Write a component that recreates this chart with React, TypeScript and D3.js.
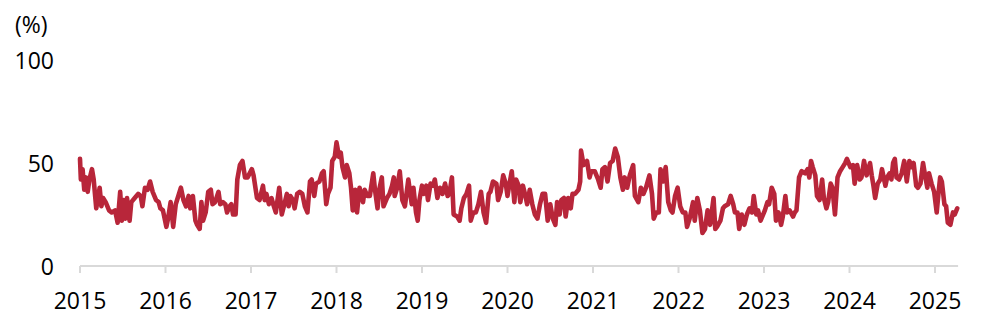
import React from 'react';
import * as d3 from 'd3';

// decimal year of each reading
const dates: number[] = [
  2015.00, 2015.01, 2015.03, 2015.05, 2015.07, 2015.09, 2015.11, 2015.14, 2015.16, 2015.19,
  2015.23, 2015.25, 2015.27, 2015.30, 2015.34, 2015.37, 2015.41, 2015.44, 2015.47, 2015.49,
  2015.51, 2015.53, 2015.55, 2015.58, 2015.60, 2015.64, 2015.68, 2015.71, 2015.73, 2015.76,
  2015.79, 2015.82, 2015.85, 2015.89, 2015.92, 2015.94, 2015.97, 2016.01, 2016.03, 2016.06,
  2016.09, 2016.12, 2016.15, 2016.18, 2016.21, 2016.24, 2016.27, 2016.29, 2016.32, 2016.35,
  2016.37, 2016.40, 2016.42, 2016.44, 2016.47, 2016.50, 2016.53, 2016.55, 2016.58, 2016.62,
  2016.64, 2016.67, 2016.70, 2016.72, 2016.75, 2016.77, 2016.79, 2016.82, 2016.84, 2016.87,
  2016.90, 2016.93, 2016.96, 2017.01, 2017.03, 2017.07, 2017.10, 2017.14, 2017.16, 2017.18,
  2017.21, 2017.24, 2017.26, 2017.29, 2017.33, 2017.36, 2017.39, 2017.42, 2017.44, 2017.46,
  2017.49, 2017.51, 2017.54, 2017.57, 2017.60, 2017.63, 2017.66, 2017.69, 2017.71, 2017.74,
  2017.76, 2017.80, 2017.83, 2017.85, 2017.88, 2017.90, 2017.93, 2017.95, 2017.98, 2018.00,
  2018.03, 2018.05, 2018.07, 2018.10, 2018.12, 2018.15, 2018.17, 2018.19, 2018.22, 2018.24,
  2018.27, 2018.31, 2018.33, 2018.36, 2018.39, 2018.43, 2018.45, 2018.48, 2018.50, 2018.53,
  2018.55, 2018.59, 2018.62, 2018.65, 2018.67, 2018.68, 2018.71, 2018.74, 2018.77, 2018.80,
  2018.84, 2018.88, 2018.90, 2018.93, 2018.95, 2018.97, 2019.00, 2019.02, 2019.05, 2019.07,
  2019.10, 2019.13, 2019.15, 2019.18, 2019.21, 2019.24, 2019.27, 2019.30, 2019.32, 2019.35,
  2019.37, 2019.41, 2019.44, 2019.46, 2019.49, 2019.52, 2019.55, 2019.57, 2019.60, 2019.63,
  2019.66, 2019.69, 2019.72, 2019.75, 2019.78, 2019.80, 2019.83, 2019.87, 2019.89, 2019.92,
  2019.95, 2019.98, 2020.00, 2020.02, 2020.05, 2020.08, 2020.10, 2020.13, 2020.15, 2020.18,
  2020.21, 2020.23, 2020.26, 2020.29, 2020.32, 2020.35, 2020.38, 2020.41, 2020.44, 2020.47,
  2020.50, 2020.53, 2020.56, 2020.58, 2020.61, 2020.63, 2020.66, 2020.68, 2020.71, 2020.74,
  2020.76, 2020.79, 2020.83, 2020.85, 2020.86, 2020.89, 2020.93, 2020.96, 2020.98, 2021.02,
  2021.06, 2021.09, 2021.11, 2021.14, 2021.17, 2021.20, 2021.23, 2021.26, 2021.29, 2021.32,
  2021.35, 2021.37, 2021.40, 2021.43, 2021.47, 2021.49, 2021.53, 2021.56, 2021.59, 2021.62,
  2021.66, 2021.69, 2021.71, 2021.74, 2021.77, 2021.79, 2021.82, 2021.85, 2021.88, 2021.91,
  2021.93, 2021.96, 2021.99, 2022.02, 2022.05, 2022.08, 2022.10, 2022.13, 2022.17, 2022.19,
  2022.22, 2022.25, 2022.28, 2022.31, 2022.34, 2022.37, 2022.41, 2022.43, 2022.45, 2022.49,
  2022.52, 2022.54, 2022.58, 2022.61, 2022.64, 2022.66, 2022.69, 2022.71, 2022.74, 2022.77,
  2022.80, 2022.83, 2022.86, 2022.88, 2022.91, 2022.93, 2022.96, 2023.01, 2023.04, 2023.06,
  2023.09, 2023.12, 2023.14, 2023.17, 2023.20, 2023.22, 2023.25, 2023.27, 2023.30, 2023.34,
  2023.36, 2023.38, 2023.41, 2023.44, 2023.48, 2023.51, 2023.53, 2023.55, 2023.57, 2023.60,
  2023.62, 2023.65, 2023.68, 2023.70, 2023.73, 2023.75, 2023.78, 2023.80, 2023.83, 2023.86,
  2023.89, 2023.92, 2023.95, 2023.97, 2024.01, 2024.04, 2024.06, 2024.09, 2024.12, 2024.14,
  2024.17, 2024.20, 2024.24, 2024.26, 2024.28, 2024.30, 2024.33, 2024.36, 2024.38, 2024.42,
  2024.44, 2024.47, 2024.49, 2024.51, 2024.53, 2024.55, 2024.58, 2024.61, 2024.64, 2024.67,
  2024.70, 2024.73, 2024.75, 2024.78, 2024.80, 2024.83, 2024.86, 2024.88, 2024.91, 2024.93,
  2024.96, 2024.99, 2025.02, 2025.04, 2025.06, 2025.08, 2025.11, 2025.13, 2025.15, 2025.18,
  2025.21, 2025.23, 2025.26,
];

// percent
const rates: number[] = [
  52, 42, 47, 37, 43, 36, 42, 47, 42, 28,
  38, 29, 33, 31, 27, 26, 27, 21, 36, 22,
  32, 23, 33, 22, 31, 33, 35, 34, 29, 38,
  37, 41, 36, 32, 31, 28, 27, 19, 23, 31,
  19, 30, 34, 38, 32, 29, 34, 28, 34, 22,
  20, 18, 31, 22, 26, 36, 37, 30, 31, 36,
  30, 31, 30, 26, 29, 30, 25, 25, 42, 49,
  51, 43, 43, 47, 44, 33, 32, 39, 32, 35,
  30, 33, 30, 26, 38, 25, 30, 35, 29, 34,
  32, 28, 35, 36, 35, 29, 26, 41, 42, 34,
  40, 41, 45, 46, 30, 35, 38, 51, 53, 60,
  53, 55, 48, 43, 49, 45, 38, 27, 37, 26,
  38, 31, 37, 34, 34, 45, 37, 28, 37, 43,
  29, 33, 35, 39, 43, 34, 38, 46, 32, 29,
  42, 30, 38, 26, 22, 32, 39, 35, 39, 32,
  40, 39, 42, 33, 38, 35, 40, 34, 35, 43,
  25, 24, 22, 28, 33, 35, 39, 22, 26, 26,
  30, 36, 26, 21, 35, 36, 41, 40, 32, 36,
  44, 40, 34, 39, 46, 31, 42, 39, 31, 39,
  34, 30, 37, 30, 25, 23, 30, 35, 35, 22,
  30, 23, 20, 31, 25, 32, 33, 24, 33, 28,
  35, 35, 37, 41, 56, 49, 51, 43, 46, 46,
  42, 38, 47, 48, 41, 50, 51, 57, 53, 43,
  37, 43, 38, 44, 49, 34, 31, 38, 35, 38,
  44, 35, 23, 26, 26, 47, 41, 48, 31, 27,
  26, 34, 38, 29, 26, 26, 19, 23, 31, 22,
  33, 27, 16, 18, 27, 20, 33, 18, 19, 22,
  28, 29, 30, 34, 30, 26, 26, 18, 25, 20,
  25, 28, 26, 34, 25, 27, 22, 27, 31, 30,
  38, 35, 22, 26, 20, 24, 34, 26, 27, 24,
  26, 27, 43, 46, 45, 47, 43, 51, 48, 44,
  34, 32, 42, 33, 28, 31, 40, 38, 25, 43,
  46, 48, 50, 52, 48, 49, 40, 49, 42, 43,
  51, 44, 50, 44, 39, 33, 40, 42, 47, 39,
  43, 45, 42, 50, 52, 43, 42, 45, 51, 41,
  51, 48, 50, 39, 38, 40, 50, 45, 38, 45,
  40, 36, 26, 35, 43, 41, 30, 29, 21, 20,
  26, 25, 28,
];

const yearTicks: number[] = [2015, 2016, 2017, 2018, 2019, 2020, 2021, 2022, 2023, 2024, 2025];
const valueTicks: number[] = [0, 50, 100];

const W = 985;
const H = 324;
const FONT = "'Open Sans', 'Noto Sans', sans-serif";

export default function App() {
  const x = d3.scaleLinear().domain([2015, 2025]).range([80, 935]);
  const y = d3.scaleLinear().domain([0, 100]).range([266, 60]);

  const points = dates.map((d, i) => [d, rates[i]] as [number, number]);
  const line = d3.line<[number, number]>()
    .x(d => x(d[0]))
    .y(d => y(d[1]));

  const axisEnd = x(2025.27);

  return (
    <svg width={W} height={H} style={{ position: 'absolute', left: 0, top: 0, background: '#fff' }}>
      <text x={15} y={24} fontSize={23} fontFamily={FONT} fill="#000" dominantBaseline="central">(%)</text>
      {valueTicks.map(v => (
        <text key={v} x={54} y={y(v)} fontSize={23} fontFamily={FONT} fill="#000"
          textAnchor="end" dominantBaseline="central">{v}</text>
      ))}

      {/* x axis */}
      <line x1={x(2015)} x2={axisEnd} y1={y(0)} y2={y(0)} stroke="#d9d9d9" strokeWidth={2} />
      {yearTicks.map(t => (
        <g key={t}>
          <line x1={x(t)} x2={x(t)} y1={y(0)} y2={y(0) + 7} stroke="#d9d9d9" strokeWidth={2} />
          <text x={x(t)} y={300} fontSize={23} fontFamily={FONT} fill="#000"
            textAnchor="middle" dominantBaseline="central">{t}</text>
        </g>
      ))}

      <path d={line(points) || ''} fill="none" stroke="#b8263a" strokeWidth={4.6}
        strokeLinejoin="round" strokeLinecap="round" />
    </svg>
  );
}
